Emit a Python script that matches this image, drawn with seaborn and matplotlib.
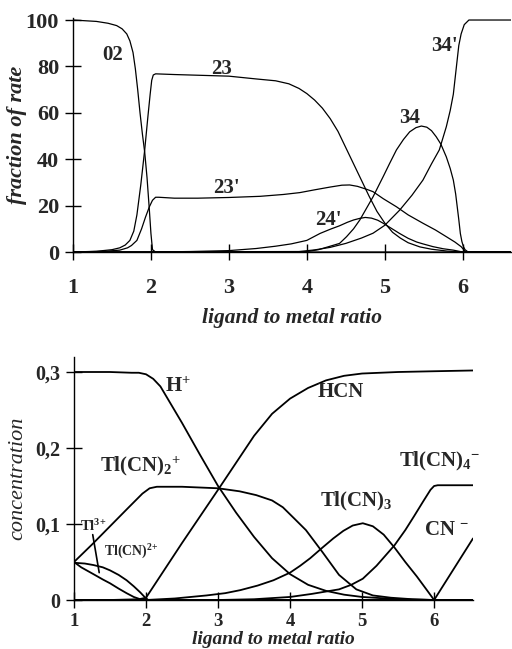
import matplotlib
matplotlib.use("Agg")
import matplotlib.pyplot as plt
import pandas as pd
import seaborn as sns

# ---------------- top panel: fraction of rate (%) vs ligand/metal ratio ----------------
x_02 = [1.0, 1.3, 1.45, 1.56, 1.63, 1.69, 1.73, 1.77, 1.8, 1.83, 1.86, 1.89, 1.92, 1.95, 1.98, 2.0, 2.02, 2.06, 3.0, 4.0, 5.0, 6.0, 6.62]
y_02 = [100, 99.4, 98.6, 97.6, 96.2, 94, 91, 86, 79, 70, 60, 51, 43, 32, 18, 8, 1, 0, 0, 0, 0, 0, 0]

x_23 = [1.0, 1.3, 1.5, 1.6, 1.67, 1.73, 1.78, 1.82, 1.87, 1.92, 1.96, 1.99, 2.01, 2.03, 2.06, 2.3, 2.6, 3.0, 3.35, 3.6, 3.77, 3.9, 4.0, 4.1, 4.2, 4.3, 4.4, 4.5, 4.6, 4.7, 4.8, 4.9, 5.0, 5.1, 5.2, 5.3, 5.45, 5.6, 5.8, 6.0, 6.62]
y_23 = [0, 0.3, 1.0, 1.8, 3, 5, 9, 16, 29, 44, 58, 68, 74, 76.3, 76.8, 76.5, 76.2, 75.8, 74.6, 73.8, 72.5, 70.5, 68.3, 65.5, 62, 57.5, 52, 45, 38, 31, 24, 17.5, 12.5, 8.5, 6, 4, 2.2, 1.2, 0.4, 0, 0]

x_23p = [1.0, 1.4, 1.6, 1.7, 1.75, 1.82, 1.88, 1.93, 1.98, 2.02, 2.06, 2.1, 2.3, 2.6, 3.0, 3.4, 3.7, 3.91, 4.1, 4.3, 4.45, 4.55, 4.65, 4.77, 4.85, 4.98, 5.15, 5.3, 5.49, 5.65, 5.79, 5.9, 5.98, 6.04, 6.62]
y_23p = [0, 0.3, 0.8, 1.8, 2.8, 5, 10, 15, 19.5, 22.3, 23.6, 23.6, 23.2, 23.2, 23.5, 24, 24.8, 25.6, 26.8, 28, 28.8, 28.9, 28.3, 27, 26, 23, 19.5, 16, 12.4, 9.5, 6.6, 4.3, 2.3, 0, 0]

x_24p = [1.0, 2.0, 2.5, 3.0, 3.35, 3.6, 3.8, 4.0, 4.17, 4.3, 4.42, 4.52, 4.6, 4.68, 4.75, 4.83, 4.91, 4.98, 5.08, 5.19, 5.3, 5.41, 5.49, 5.62, 5.75, 5.88, 6.0, 6.62]
y_24p = [0, 0, 0.2, 0.6, 1.5, 2.5, 3.5, 5, 8, 9.8, 11.3, 12.8, 13.8, 14.5, 14.9, 14.6, 13.7, 12.4, 10.3, 8, 5.9, 4.3, 3.5, 2.3, 1.4, 0.8, 0, 0]

x_34 = [1.0, 3.9, 4.0, 4.15, 4.3, 4.42, 4.51, 4.6, 4.68, 4.76, 4.85, 4.92, 4.98, 5.06, 5.15, 5.24, 5.32, 5.4, 5.47, 5.54, 5.6, 5.66, 5.72, 5.79, 5.84, 5.88, 5.91, 5.93, 5.95, 5.97, 5.99, 6.01, 6.03, 6.07, 6.62]
y_34 = [0, 0, 0.2, 1, 2.5, 3.7, 6.6, 10, 13.8, 18.5, 23.8, 28.5, 32.5, 38, 44, 48.5, 51.8, 53.6, 54.3, 53.8, 52.3, 49.7, 46.5, 41, 36, 31, 25, 19.5, 14, 8, 4.5, 2.3, 1, 0, 0]

x_34p = [1.0, 3.9, 4.1, 4.3, 4.5, 4.7, 4.85, 5.0, 5.19, 5.35, 5.49, 5.6, 5.7, 5.79, 5.84, 5.88, 5.92, 5.95, 5.98, 6.02, 6.08, 6.62]
y_34p = [0, 0.2, 0.9, 2, 3.7, 6, 8.1, 11.5, 18, 24.5, 31, 38, 44, 54, 61, 68, 80, 89, 94, 98, 100, 100]

top_labels = ["02", "23", "23'", "24'", "34", "34'"]

# ---------------- bottom panel: concentration vs ligand/metal ratio ----------------
x_H = [1.0, 1.5, 1.8, 1.9, 2.0, 2.1, 2.2, 2.5, 2.75, 3.0, 3.25, 3.5, 3.75, 4.0, 4.25, 4.5, 4.75, 5.0, 5.5, 6.0, 6.54]
c_H = [0.3, 0.3, 0.299, 0.299, 0.297, 0.291, 0.281, 0.233, 0.191, 0.150, 0.115, 0.083, 0.055, 0.034, 0.020, 0.012, 0.007, 0.004, 0.001, 0, 0]

x_HCN = [1.0, 1.5, 1.9, 2.0, 2.5, 3.0, 3.5, 3.75, 4.0, 4.25, 4.5, 4.75, 5.0, 5.5, 6.0, 6.54]
c_HCN = [0, 0, 0.001, 0.003, 0.075, 0.145, 0.216, 0.245, 0.265, 0.279, 0.289, 0.295, 0.298, 0.300, 0.301, 0.302]

x_TlCN2 = [1.0, 1.25, 1.5, 1.75, 1.95, 2.05, 2.15, 2.5, 3.0, 3.3, 3.53, 3.75, 3.9, 4.05, 4.22, 4.45, 4.68, 4.92, 5.15, 5.4, 5.7, 6.0, 6.54]
c_TlCN2 = [0.05, 0.073, 0.097, 0.121, 0.140, 0.147, 0.149, 0.149, 0.147, 0.143, 0.138, 0.131, 0.122, 0.108, 0.092, 0.063, 0.033, 0.014, 0.006, 0.003, 0.001, 0, 0]

x_TlCN = [1.0, 1.15, 1.27, 1.4, 1.5, 1.62, 1.73, 1.83, 1.92, 1.98, 2.03, 6.54]
c_TlCN = [0.049, 0.048, 0.046, 0.043, 0.039, 0.033, 0.026, 0.018, 0.010, 0.004, 0, 0]

x_Tl = [1.0, 1.1, 1.27, 1.4, 1.5, 1.62, 1.73, 1.83, 1.92, 2.0, 6.54]
c_Tl = [0.05, 0.043, 0.034, 0.027, 0.022, 0.015, 0.009, 0.004, 0.001, 0, 0]

x_TlCN3 = [1.0, 2.0, 2.4, 2.84, 3.1, 3.31, 3.55, 3.77, 4.0, 4.14, 4.28, 4.45, 4.6, 4.74, 4.87, 5.01, 5.15, 5.3, 5.45, 5.6, 5.76, 5.9, 6.0, 6.54]
c_TlCN3 = [0, 0, 0.002, 0.006, 0.009, 0.013, 0.019, 0.026, 0.036, 0.045, 0.055, 0.069, 0.081, 0.091, 0.098, 0.101, 0.097, 0.086, 0.069, 0.050, 0.031, 0.013, 0, 0]

x_TlCN4 = [1.0, 3.0, 3.5, 4.0, 4.3, 4.68, 4.85, 5.01, 5.2, 5.45, 5.6, 5.72, 5.85, 5.95, 6.0, 6.05, 6.54]
c_TlCN4 = [0, 0, 0.001, 0.004, 0.008, 0.014, 0.020, 0.028, 0.045, 0.072, 0.092, 0.110, 0.130, 0.145, 0.150, 0.151, 0.151]

x_CN = [1.0, 6.0, 6.54]
c_CN = [0, 0, 0.081]

bottom_names = ["H+", "HCN", "Tl(CN)2+", "Tl(CN)2+_mono", "Tl3+", "Tl(CN)3", "Tl(CN)4-", "CN-"]

# ---------------- long-form tables ----------------
top_df = pd.concat([
    pd.DataFrame({"ratio": xs, "rate": ys, "path": name})
    for name, xs, ys in zip(top_labels,
                            [x_02, x_23, x_23p, x_24p, x_34, x_34p],
                            [y_02, y_23, y_23p, y_24p, y_34, y_34p])
], ignore_index=True)

bot_df = pd.concat([
    pd.DataFrame({"ratio": xs, "conc": ys, "species": name})
    for name, xs, ys in zip(bottom_names,
                            [x_H, x_HCN, x_TlCN2, x_TlCN, x_Tl, x_TlCN3, x_TlCN4, x_CN],
                            [c_H, c_HCN, c_TlCN2, c_TlCN, c_Tl, c_TlCN3, c_TlCN4, c_CN])
], ignore_index=True)

# ---------------- style ----------------
sns.set_style("ticks")
plt.rcParams["font.family"] = ["Liberation Serif", "DejaVu Serif"]
plt.rcParams["font.weight"] = "bold"
plt.rcParams["mathtext.default"] = "regular"

W, H = 512, 649
fig = plt.figure(figsize=(W / 100, H / 100), dpi=100)

# top axes: x 1..6.62, y 0..101
ax1 = fig.add_axes([73 / W, (H - 252) / H, (511 - 73) / W, 234.3 / H])
# bottom axes: x 1..6.54, y 0..0.32
ax2 = fig.add_axes([74 / W, (H - 600) / H, (473 - 74) / W, 243.2 / H])

sns.lineplot(data=top_df, x="ratio", y="rate", units="path", estimator=None,
             color="black", linewidth=0.9, ax=ax1, legend=False)
sns.lineplot(data=bot_df, x="ratio", y="conc", units="species", estimator=None,
             color="black", linewidth=1.3, ax=ax2, legend=False)

for ax in (ax1, ax2):
    sns.despine(ax=ax)
    for s in ("left", "bottom"):
        ax.spines[s].set_linewidth(1.0)
        ax.spines[s].set_color("black")
    ax.tick_params(direction="inout", length=12, width=1.0, color="black")

ax1.set_xlim(1, 6.62)
ax1.set_ylim(0, 101)
ax1.set_xticks([1, 2, 3, 4, 5, 6])
ax1.set_yticks([0, 20, 40, 60, 80, 100])
ax1.tick_params(axis="x", pad=13, labelsize=16)
ax1.tick_params(axis="y", pad=4, labelsize=16)

ax2.set_xlim(1, 6.54)
ax2.set_ylim(0, 0.32)
ax2.set_xticks([1, 2, 3, 4, 5, 6])
ax2.set_yticks([0, 0.1, 0.2, 0.3])
ax2.set_yticklabels(["0", "0,1", "0,2", "0,3"])
ax2.tick_params(axis="x", pad=3, labelsize=13.5)
ax2.tick_params(axis="y", pad=4, labelsize=14.5)

for lab in ax1.get_xticklabels() + ax1.get_yticklabels() + ax2.get_xticklabels() + ax2.get_yticklabels():
    lab.set_fontweight("bold")

ax1.set_xlabel("ligand to metal ratio", fontsize=15.5, fontweight="bold", fontstyle="italic")
ax1.set_ylabel("fraction of rate", fontsize=16, fontweight="bold", fontstyle="italic")
ax1.xaxis.set_label_coords(0.5, -(318 - 252) / 234.3)
ax1.xaxis.label.set_va("center")
ax1.yaxis.set_label_coords(-(73 - 17) / 438, 0.5)
ax1.yaxis.label.set_va("center")

ax2.set_xlabel("ligand to metal ratio", fontsize=14, fontweight="bold", fontstyle="italic")
ax2.set_ylabel("concentration", fontsize=16, fontweight="normal", fontstyle="italic")
ax2.xaxis.set_label_coords(0.5, -(640 - 600) / 243.2)
ax2.xaxis.label.set_va("center")
ax2.yaxis.set_label_coords(-(74 - 18) / 399, 0.5)
ax2.yaxis.label.set_va("center")

# curve labels, top panel
top_pos = {"02": (1.51, 85), "23": (2.91, 79), "23'": (2.97, 27.6),
           "24'": (4.28, 13.8), "34": (5.32, 57.7), "34'": (5.76, 89)}
for name in top_labels:
    xx, yy = top_pos[name]
    ax1.text(xx, yy, name, fontsize=15, fontweight="bold", ha="center", va="center")

# species labels, bottom panel
big = [("H$^{{+}}$", 2.44, 0.28), ("HCN", 4.71, 0.274), ("Tl(CN)$_2$$^{{+}}$", 1.92, 0.176),
       ("Tl(CN)$_3$", 4.92, 0.13), ("Tl(CN)$_4$$^{{-}}$", 6.08, 0.182), ("CN $^{{-}}$", 6.17, 0.092)]
for txt, xx, yy in big:
    ax2.text(xx, yy, txt, fontsize=15, fontweight="bold", ha="center", va="center")
ax2.text(1.27, 0.097, "Tl$^{3{+}}$", fontsize=10.5, fontweight="bold", ha="center", va="center")
ax2.text(1.79, 0.063, "Tl(CN)$^{2{+}}$", fontsize=10, fontweight="bold", ha="center", va="center")
ax2.plot([1.26, 1.35], [0.086, 0.036], color="black", linewidth=1.2)

fig.savefig("out.png", dpi=100)
